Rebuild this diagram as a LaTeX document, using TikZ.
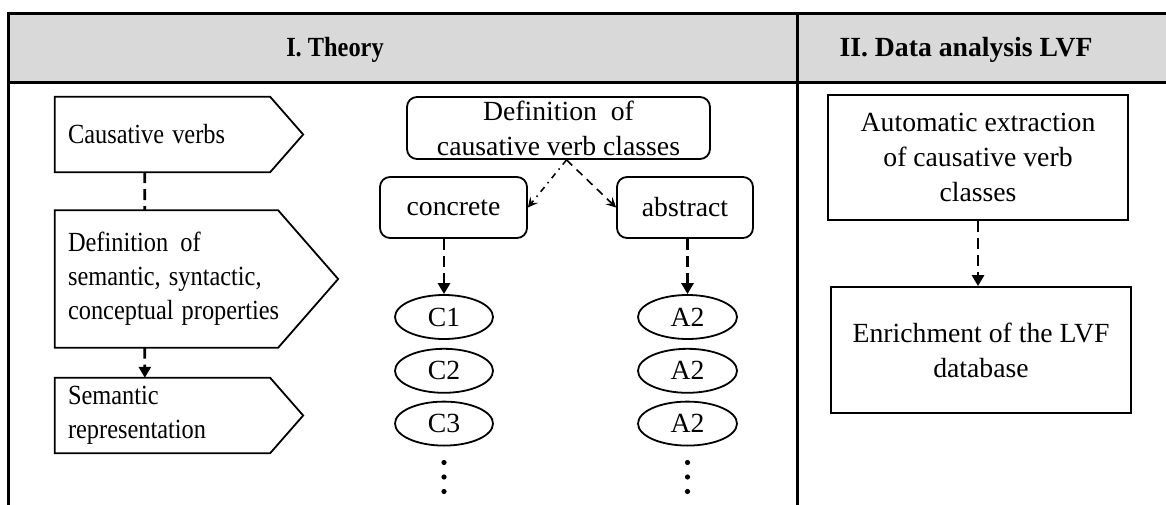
\documentclass[tikz,border=0pt]{standalone}
\usepackage{fontspec}
\setmainfont{Liberation Serif}
\usetikzlibrary{arrows.meta,positioning,shapes.geometric,calc}
\definecolor{headgrey}{RGB}{217,217,217}

\begin{document}
\begin{tikzpicture}[x=1pt,y=-1pt,
  font=\fontsize{27.7}{35}\selectfont,
  frame/.style={line width=3pt},
  tag/.style={rectangle,inner xsep=14.8pt,inner ysep=0pt,align=left,
              xscale=0.88,transform shape,font=\fontsize{27.7}{34}\selectfont},
  rbox/.style={draw,rounded corners=10pt,line width=1.8pt,align=center,
               inner sep=0pt,minimum height=61pt},
  sbox/.style={draw,line width=1.8pt,align=center,inner sep=0pt,
               minimum width=300pt},
  cls/.style={draw,ellipse,line width=1.8pt,inner sep=0pt,
              minimum width=98pt,minimum height=44pt},
  dsh/.style={line width=2.8pt,dash pattern=on 11pt off 6pt},
  tip/.style={dsh,-{Triangle[length=11pt,width=12pt]}},
  fork/.style={line width=1.6pt,-{Stealth[length=10pt,width=10pt,inset=4pt]}}]

\useasboundingbox (0,0) rectangle (1166,505);

% header band and columns
\fill[headgrey] (8,14) rectangle (1166,83);
\draw[frame] (1166,14) -- (8,14) -- (8,505);
\draw[frame] (8,83) -- (1166,83);
\draw[frame] (797,14) -- (797,505);
\node[xscale=0.88,transform shape,font=\fontsize{27.7}{30}\selectfont\bfseries] (th)
  at (335,50) {I. Theory};
\node (da) at (966,50) {\textbf{II. Data analysis LVF}};

% left column
\node[tag,minimum width=244.3pt,minimum height=75pt,text width=214.7pt] (cv)
  at (162.5,134.5) {Causative verbs};
\node[tag,minimum width=253.4pt,minimum height=137pt,text width=223.8pt] (dp)
  at (166.5,279) {Definition\enspace of\\semantic, syntactic,\\\mbox{conceptual properties}};
\node[tag,minimum width=244.3pt,minimum height=75pt,text width=214.7pt] (sr)
  at (162.5,415.5) {Semantic\\representation};
\foreach \n/\t in {cv/33,dp/60,sr/33}
  \draw[line width=1.8pt] (\n.north west) -- (\n.north east)
    -- ($(\n.east)+(\t,0)$) -- (\n.south east) -- (\n.south west) -- cycle;
\draw[dsh] ($(cv.south west)+(90,0)$) -- ($(dp.north west)+(90,0)$);
\draw[tip] ($(dp.south west)+(90,0)$) -- ($(sr.north west)+(90,0)$);

% classes
\node[rbox,minimum width=303pt,minimum height=62pt] (dc) at (558.5,128)
  {Definition\enspace of\\causative verb classes};
\node[rbox,minimum width=147pt] (cc) at (453.5,207.5) {concrete};
\node[rbox,minimum width=136pt] (ab) at (685,207.5) {abstract};
\coordinate (split) at ($(dc.south)+(8,0)$);
\draw[fork,dash pattern=on 6pt off 5pt on 1.5pt off 5pt] (split) -- (cc.east);
\draw[fork,dash pattern=on 8pt off 6pt] (split) -- (ab.west);

\node[cls] (c1) at (444,317) {C1};
\node[cls,below=8pt of c1] (c2) {C2};
\node[cls,below=7pt of c2] (c3) {C3};
\node[cls,minimum width=99pt] (a1) at (687.5,317) {A2};
\node[cls,minimum width=99pt,below=8pt of a1] (a2) {A2};
\node[cls,minimum width=99pt,below=7pt of a2] (a3) {A2};
\draw[tip] (cc.south -| c1.north) -- (c1.north);
\draw[tip] (ab.south -| a1.north) -- (a1.north);
\foreach \d in {16,30.5,45} {
  \fill ($(c3.south)+(0,\d)$) circle (2.6pt);
  \fill ($(a3.south)+(0,\d)$) circle (2.6pt);
}

% right column
\node[sbox,minimum height=125pt] (ae) at (978,157.5)
  {Automatic extraction\\of causative verb\\classes};
\node[sbox,minimum height=126pt] (en) at (981,350)
  {Enrichment of the LVF\\database};
\draw[tip] (ae.south) -- (en.north -| ae.south);
\end{tikzpicture}
\end{document}
